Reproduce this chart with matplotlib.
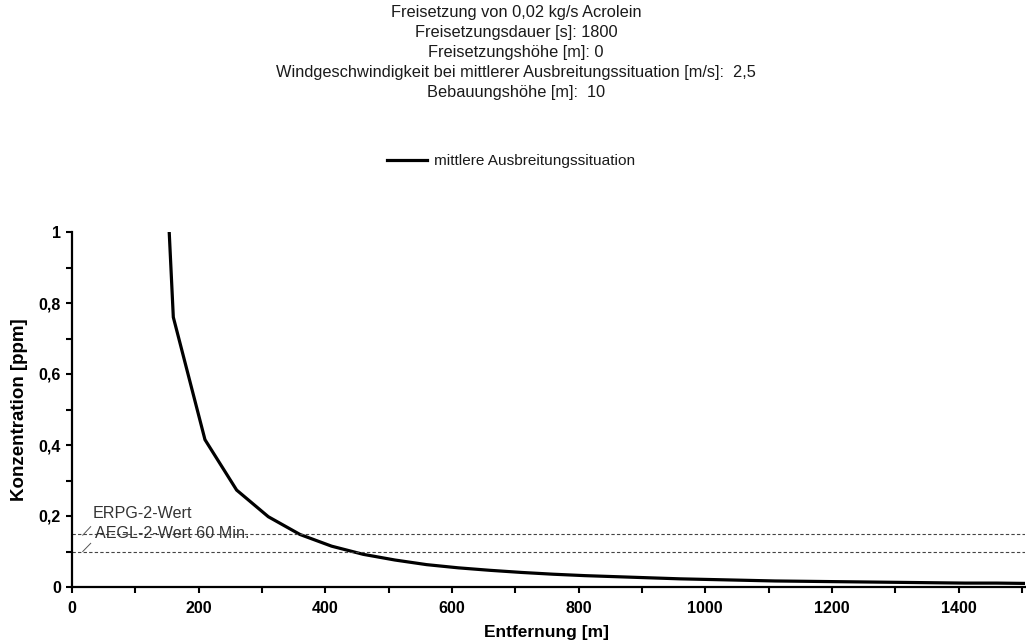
import matplotlib
matplotlib.use('Agg')
import matplotlib.pyplot as plt
from matplotlib.ticker import MultipleLocator, FuncFormatter

plt.rcParams['font.family'] = ['Liberation Sans', 'DejaVu Sans']

# Ausbreitungsrechnung
entfernung = [150, 160, 210, 260, 310, 360, 410, 460, 510, 560, 610, 660, 710, 760,
              810, 860, 910, 960, 1010, 1060, 1110, 1160, 1210, 1260, 1310, 1360,
              1410, 1460, 1510]
konzentration = [1.13, 0.76, 0.415, 0.273, 0.198, 0.148, 0.115, 0.092, 0.076, 0.063,
                 0.054, 0.047, 0.041, 0.036, 0.032, 0.029, 0.026, 0.023, 0.021, 0.019,
                 0.017, 0.016, 0.015, 0.014, 0.013, 0.012, 0.011, 0.011, 0.010]

grenzwerte = [0.15, 0.10]
grenzwert_namen = ['ERPG-2-Wert', 'AEGL-2-Wert 60 Min.']

titel_zeilen = [
    'Freisetzung von 0,02 kg/s Acrolein',
    'Freisetzungsdauer [s]: 1800',
    'Freisetzungshöhe [m]: 0',
    'Windgeschwindigkeit bei mittlerer Ausbreitungssituation [m/s]:  2,5',
    'Bebauungshöhe [m]:  10',
]

W, H = 1026, 643
fig = plt.figure(figsize=(W / 100, H / 100), dpi=100, facecolor='white')
ax = fig.add_axes([72 / W, 1 - 587 / H, 953 / W, (587 - 232) / H])

# Titelblock
for i, zeile in enumerate(titel_zeilen):
    fig.text(516 / W, 1 - (13 + i * 19.8) / H, zeile, ha='center', va='center',
             fontsize=11.8, color='#1a1a1a')

# Kurve
linie, = ax.plot(entfernung, konzentration, color='black', lw=2.3,
                 solid_joinstyle='miter', label='mittlere Ausbreitungssituation')

# Grenzwertlinien
for wert in grenzwerte:
    ax.axhline(wert, color='#444444', lw=0.8, linestyle=(0, (3, 2)))

# Beschriftung der Grenzwerte mit kleinen Hinweisstrichen
ax.plot([17, 29.5], [0.146, 0.170], color='#555555', lw=0.7)
ax.plot([17, 29.5], [0.100, 0.123], color='#555555', lw=0.7)
ax.text(33, 0.206, grenzwert_namen[0], fontsize=11.6, color='#333333', va='center')
ax.text(36, 0.152, grenzwert_namen[1], fontsize=11.6, color='#333333', va='center')

fig.legend(handles=[linie], loc='center', bbox_to_anchor=(511 / W, 1 - 161 / H),
           frameon=False, fontsize=11.1, handlelength=2.6, handletextpad=0.5,
           labelcolor='#1a1a1a')

ax.set_xlim(0, 1505)
ax.set_ylim(0, 1)
ax.xaxis.set_major_locator(MultipleLocator(200))
ax.xaxis.set_minor_locator(MultipleLocator(100))
ax.yaxis.set_major_locator(MultipleLocator(0.2))
ax.yaxis.set_minor_locator(MultipleLocator(0.1))
komma = FuncFormatter(lambda v, pos: f'{v:g}'.replace('.', ','))
ax.xaxis.set_major_formatter(komma)
ax.yaxis.set_major_formatter(komma)

for s in ['top', 'right']:
    ax.spines[s].set_visible(False)
for s in ['left', 'bottom']:
    ax.spines[s].set_linewidth(1.6)
ax.tick_params(which='both', direction='out', length=4, width=1.5, color='black')
ax.tick_params(axis='x', which='major', pad=6)
ax.tick_params(axis='y', which='major', pad=4)
for lbl in ax.get_xticklabels() + ax.get_yticklabels():
    lbl.set_fontsize(11.5)
    lbl.set_fontweight('bold')

fig.text(547 / W, 1 - 632 / H, 'Entfernung [m]', ha='center', va='center',
         fontsize=12.5, fontweight='bold')
fig.text(20 / W, 1 - 410 / H, 'Konzentration [ppm]', ha='center', va='center',
         rotation=90, fontsize=13.5, fontweight='bold')

plt.savefig('out.png', dpi=100, facecolor='white')
